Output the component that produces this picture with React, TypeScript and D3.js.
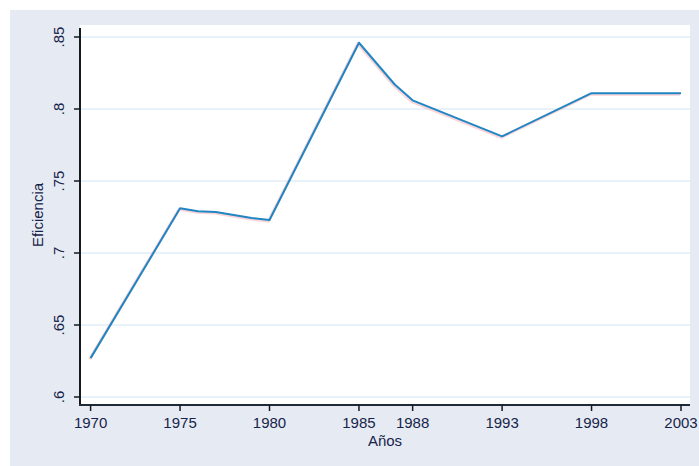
import React, {useEffect, useRef} from 'react';
import * as d3 from 'd3';

// años y eficiencia
const years = [1970, 1975, 1976, 1977, 1978, 1979, 1980, 1985, 1987, 1988, 1993, 1998, 2003];
const efficiency = [0.627, 0.731, 0.729, 0.7285, 0.7264, 0.7243, 0.7229, 0.846, 0.817, 0.806, 0.781, 0.811, 0.811];
const xTicks = [1970, 1975, 1980, 1985, 1988, 1993, 1998, 2003];
const yTicks = [0.6, 0.65, 0.7, 0.75, 0.8, 0.85];
const yTickLabels = ['.6', '.65', '.7', '.75', '.8', '.85'];

const W = 699;
const H = 466;

const App = () => {
  const svgRef = useRef<SVGSVGElement>(null);

  useEffect(() => {
    const svg = d3.select(svgRef.current);
    svg.selectAll('*').remove();

    const plot = {left: 80, right: 690, top: 25, bottom: 405};
    const textColor = '#17244a';
    const font = '"Liberation Sans", Arial, sans-serif';

    // fondo exterior
    svg.append('rect').attr('width', W).attr('height', H).attr('fill', '#ffffff');
    svg.append('rect').attr('x', 10).attr('y', 10).attr('width', W - 10).attr('height', H - 10).attr('fill', '#e6ebf3');
    svg
      .append('rect')
      .attr('x', plot.left)
      .attr('y', plot.top)
      .attr('width', plot.right - plot.left)
      .attr('height', plot.bottom - plot.top)
      .attr('fill', '#ffffff');

    const x = d3.scaleLinear().domain([1970, 2003]).range([90.6, 681]);
    const y = d3.scaleLinear().domain([0.6, 0.85]).range([397, 37]);

    // grid
    svg
      .append('g')
      .selectAll('line')
      .data(yTicks)
      .enter()
      .append('line')
      .attr('x1', plot.left)
      .attr('x2', plot.right)
      .attr('y1', d => y(d))
      .attr('y2', d => y(d))
      .attr('stroke', '#d2e5f2')
      .attr('stroke-width', 1);

    const pts = years.map((yr, i) => [yr, efficiency[i]] as [number, number]);
    const line = d3
      .line<[number, number]>()
      .x(d => x(d[0]))
      .y(d => y(d[1]));

    // leve sombra rojiza como en el original
    svg
      .append('path')
      .datum(pts)
      .attr('d', line)
      .attr('fill', 'none')
      .attr('stroke', '#f4a0a8')
      .attr('stroke-width', 3)
      .attr('opacity', 0.45)
      .attr('transform', 'translate(-1,1)');

    svg
      .append('path')
      .datum(pts)
      .attr('d', line)
      .attr('fill', 'none')
      .attr('stroke', '#1f86c4')
      .attr('stroke-width', 2)
      .attr('stroke-linejoin', 'round');

    // eje y
    const yAxis = svg.append('g').attr('transform', `translate(${plot.left},0)`);
    yAxis
      .append('line')
      .attr('x1', 0)
      .attr('x2', 0)
      .attr('y1', plot.top + 3)
      .attr('y2', plot.bottom)
      .attr('stroke', '#151a22')
      .attr('stroke-width', 2);
    yAxis
      .selectAll('line.tick')
      .data(yTicks)
      .enter()
      .append('line')
      .attr('class', 'tick')
      .attr('x1', -6)
      .attr('x2', 0)
      .attr('y1', d => y(d))
      .attr('y2', d => y(d))
      .attr('stroke', '#151a22')
      .attr('stroke-width', 1.5);
    yAxis
      .selectAll('text')
      .data(yTicks)
      .enter()
      .append('text')
      .attr('transform', d => `translate(-16,${y(d)}) rotate(-90)`)
      .attr('text-anchor', 'middle')
      .attr('font-family', font)
      .attr('font-size', 15)
      .attr('fill', textColor)
      .text((d, i) => yTickLabels[i]);

    // eje x
    const xAxis = svg.append('g').attr('transform', `translate(0,${plot.bottom})`);
    xAxis
      .append('line')
      .attr('x1', plot.left - 1)
      .attr('x2', plot.right)
      .attr('y1', 0)
      .attr('y2', 0)
      .attr('stroke', '#1f2a36')
      .attr('stroke-width', 2);
    xAxis
      .selectAll('line.tick')
      .data(xTicks)
      .enter()
      .append('line')
      .attr('class', 'tick')
      .attr('x1', d => x(d))
      .attr('x2', d => x(d))
      .attr('y1', 0)
      .attr('y2', 6)
      .attr('stroke', '#151a22')
      .attr('stroke-width', 1.5);
    xAxis
      .selectAll('text')
      .data(xTicks)
      .enter()
      .append('text')
      .attr('x', d => x(d))
      .attr('y', 23)
      .attr('text-anchor', 'middle')
      .attr('font-family', font)
      .attr('font-size', 15)
      .attr('fill', textColor)
      .text(d => String(d));

    // títulos
    svg
      .append('text')
      .attr('x', (plot.left + plot.right) / 2)
      .attr('y', 446)
      .attr('text-anchor', 'middle')
      .attr('font-family', font)
      .attr('font-size', 15)
      .attr('fill', textColor)
      .text('Años');

    svg
      .append('text')
      .attr('transform', `translate(43,${(plot.top + plot.bottom) / 2}) rotate(-90)`)
      .attr('text-anchor', 'middle')
      .attr('font-family', font)
      .attr('font-size', 15)
      .attr('fill', textColor)
      .text('Eficiencia');
  }, []);

  return (
    <div style={{position: 'absolute', left: 0, top: 0}}>
      <svg ref={svgRef} width={W} height={H} style={{display: 'block'}}></svg>
    </div>
  );
};

export default App;
